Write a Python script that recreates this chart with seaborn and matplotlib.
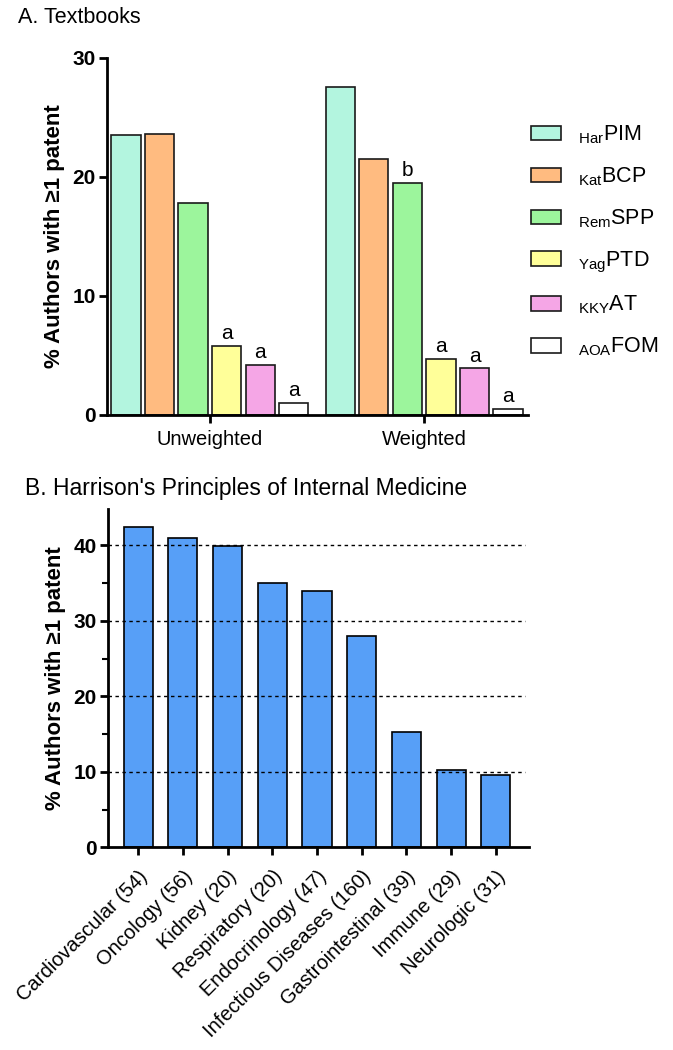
import numpy as np
import pandas as pd
import matplotlib
matplotlib.use('Agg')
import matplotlib.pyplot as plt
from matplotlib.ticker import MultipleLocator
import seaborn as sns

# --- dati ---
textbooks = ['HarPIM', 'KatBCP', 'RemSPP', 'YagPTD', 'KKYAT', 'AOAFOM']
tb_sub = ['Har', 'Kat', 'Rem', 'Yag', 'KKY', 'AOA']
tb_main = ['PIM', 'BCP', 'SPP', 'PTD', 'AT', 'FOM']
weighting = ['Unweighted', 'Weighted']
unweighted = [23.5, 23.6, 17.8, 5.8, 4.2, 1.0]
weighted = [27.5, 21.5, 19.5, 4.7, 3.9, 0.5]
annot_unw = ['', '', '', 'a', 'a', 'a']
annot_w = ['', '', 'b', 'a', 'a', 'a']
tb_colors = ['#b3f5df', '#ffbb80', '#9cf59c', '#ffff99', '#f5a6e6', '#ffffff']

organs = ['Cardiovascular (54)', 'Oncology (56)', 'Kidney (20)', 'Respiratory (20)',
          'Endocrinology (47)', 'Infectious Diseases (160)', 'Gastrointestinal (39)',
          'Immune (29)', 'Neurologic (31)']
organ_pct = [42.5, 41.0, 39.9, 35.0, 34.0, 28.0, 15.3, 10.3, 9.6]

sns.set_theme(style='ticks')
plt.rcParams['font.family'] = ['Liberation Sans', 'DejaVu Sans']
plt.rcParams['mathtext.fontset'] = 'custom'
plt.rcParams['mathtext.rm'] = 'Liberation Sans'
for k in ['text.color', 'axes.labelcolor', 'xtick.color', 'ytick.color', 'axes.edgecolor']:
    plt.rcParams[k] = 'black'

fig = plt.figure(figsize=(6.73, 10.5), dpi=100)
axA = fig.add_axes([0.159, 0.605, 0.626, 0.340])
axB = fig.add_axes([0.160, 0.193, 0.626, 0.322])

# --- Pannello A ---
df = pd.DataFrame({
    'book': textbooks * 2,
    'weight': ['Unweighted'] * 6 + ['Weighted'] * 6,
    'pct': unweighted + weighted,
})
sns.barplot(data=df, x='weight', y='pct', hue='book', order=weighting,
            hue_order=textbooks, palette=tb_colors, saturation=1,
            edgecolor='#1a1a1a', linewidth=1.2, width=0.94, gap=0.13, ax=axA)

for i, cont in enumerate(axA.containers):
    axA.bar_label(cont, labels=[annot_unw[i], annot_w[i]], padding=2, fontsize=15)

axA.set_ylim(0, 30)
axA.set_xlim(-0.48, 1.486)
axA.set_yticks([0, 10, 20, 30])
axA.set_xlabel('')
axA.set_ylabel('% Authors with \u22651 patent', fontsize=16, fontweight='bold')
axA.yaxis.set_label_coords(-0.10, 0.5)
handles, _ = axA.get_legend_handles_labels()
labels = [r'$_{\mathregular{%s}}$%s' % (s, m) for s, m in zip(tb_sub, tb_main)]
axA.legend(handles, labels, loc='upper left', bbox_to_anchor=(0.985, 0.84),
           frameon=False, fontsize=15.5, handlelength=1.4, handleheight=0.66,
           labelspacing=0.9, handletextpad=0.8, borderaxespad=0)

# --- Pannello B ---
sns.barplot(x=organs, y=organ_pct, color='#579ff7', saturation=1,
            edgecolor='black', linewidth=1.2, width=0.65, ax=axB)
for yv in [10, 20, 30, 40]:
    axB.axhline(yv, color='black', linestyle=(0, (2.5, 2.5)), linewidth=1.0,
                xmax=0.99, zorder=5)
axB.set_ylim(0, 44.8)
axB.set_xlim(-0.68, 8.74)
axB.set_yticks([0, 10, 20, 30, 40])
axB.yaxis.set_minor_locator(MultipleLocator(5))
axB.set_ylabel('% Authors with \u22651 patent', fontsize=16, fontweight='bold')
axB.yaxis.set_label_coords(-0.10, 0.5)
axB.set_xticks(range(len(organs)))
axB.set_xticklabels(organs, rotation=45, ha='right', va='top',
                    rotation_mode='anchor', fontsize=14.5)

for ax in (axA, axB):
    sns.despine(ax=ax)
    ax.spines['left'].set_linewidth(2)
    ax.spines['bottom'].set_linewidth(2)
    ax.tick_params(axis='both', which='major', length=6, width=2, direction='out')
    ax.tick_params(axis='y', which='minor', length=4, width=1.5)
    ax.tick_params(axis='y', labelsize=15, pad=2)
    for t in ax.get_yticklabels():
        t.set_fontweight('bold')
axA.tick_params(axis='x', labelsize=14.5, pad=5)
axB.tick_params(axis='x', pad=8)

fig.text(0.027, 0.983, 'A. Textbooks', fontsize=15.5, va='center')
fig.text(0.037, 0.535, "B. Harrison's Principles of Internal Medicine", fontsize=16.5,
         va='center')

fig.savefig('out.png', dpi=100)
